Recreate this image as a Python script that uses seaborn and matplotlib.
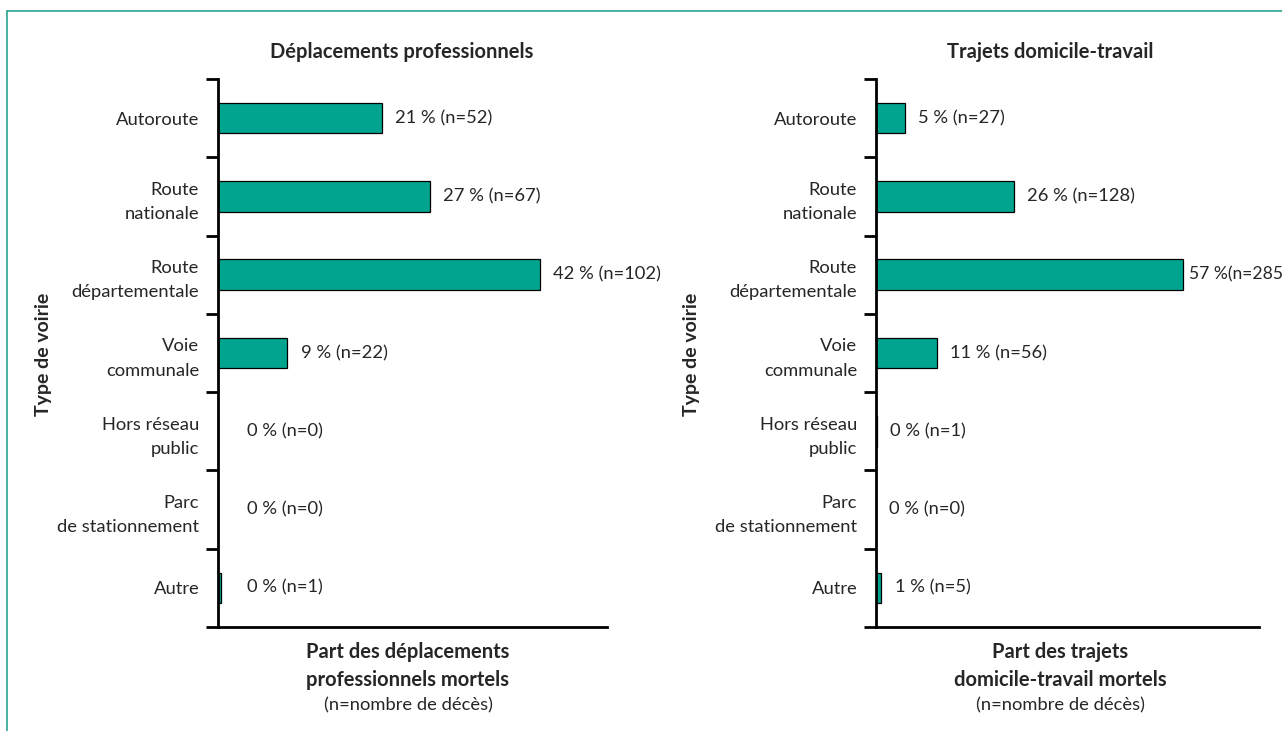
import numpy as np
import pandas as pd
import matplotlib
matplotlib.use("Agg")
import matplotlib.pyplot as plt
from matplotlib.lines import Line2D
import seaborn as sns

# ==========================================
# Data
# ==========================================

categories = [
    "Autoroute",
    "Route\nnationale",
    "Route\ndépartementale",
    "Voie\ncommunale",
    "Hors réseau\npublic",
    "Parc\nde stationnement",
    "Autre",
]

# share of deaths (%) and number of deaths
pro_pct = [21.3, 27.5, 41.8, 9.0, 0.0, 0.0, 0.4]
pro_n = [52, 67, 102, 22, 0, 0, 1]
pro_labels = ["21 %", "27 %", "42 %", "9 %", "0 %", "0 %", "0 %"]

dom_pct = [5.4, 25.5, 56.8, 11.2, 0.2, 0.0, 1.0]
dom_n = [27, 128, 285, 56, 1, 0, 5]
dom_labels = ["5 %", "26 %", "57 %", "11 %", "0 %", "0 %", "1 %"]

titles = ["Déplacements professionnels", "Trajets domicile-travail"]
xlabels = [
    "Part des déplacements\nprofessionnels mortels",
    "Part des trajets\ndomicile-travail mortels",
]
note = "(n=nombre de décès)"

# ==========================================
# Style
# ==========================================

TEAL = "#00a48f"
FRAME = "#3aab98"
FS = 13.2     # regular text
FS_B = 14.5   # bold text

sns.set_style("white")
plt.rcParams["font.family"] = ["Lato", "DejaVu Sans"]

W, H = 1282, 731
fig = plt.figure(figsize=(W / 100, H / 100), dpi=100)
renderer = fig.canvas.get_renderer()


def px_axes(x0, x1, y_top, y_bot):
    return fig.add_axes([x0 / W, 1 - y_bot / H, (x1 - x0) / W, (y_bot - y_top) / H])


panels = [
    dict(ax=px_axes(218, 607, 79, 627), pct=pro_pct, n=pro_n, lab=pro_labels,
         xmax=50.5, min_lab=2.0, title_x=402, lab_x=43, xl_x=408),
    dict(ax=px_axes(876, 1259, 79, 627), pct=dom_pct, n=dom_n, lab=dom_labels,
         xmax=70.9, min_lab=0.0, title_x=1050, lab_x=692, xl_x=1060),
]

for i, p in enumerate(panels):
    ax = p["ax"]
    df = pd.DataFrame({"type": categories, "pct": p["pct"]})
    sns.barplot(data=df, x="pct", y="type", color=TEAL, edgecolor="black",
                linewidth=0.9, width=0.39, saturation=1, ax=ax)

    ax.set_xlim(0, p["xmax"])
    ax.set_ylim(len(categories) - 0.5, -0.5)
    ax.set_xticks([])
    ax.set_yticks(np.arange(-0.5, len(categories)))
    ax.set_yticklabels([])
    ax.set_yticks(np.arange(len(categories)), minor=True)
    ax.set_yticklabels(categories, minor=True, fontsize=FS, linespacing=1.62)
    ax.tick_params(axis="y", which="major", direction="out", length=8.5, width=2,
                   color="black", left=True)
    ax.tick_params(axis="y", which="minor", length=0, pad=13.5, left=True)
    ax.set_xlabel("")
    ax.set_ylabel("")
    for s in ["top", "right"]:
        ax.spines[s].set_visible(False)
    for s in ["left", "bottom"]:
        ax.spines[s].set_linewidth(2)
        ax.spines[s].set_color("black")

    # value labels; one running past the figure edge is set tighter, as in the original
    for k, (v, n, lab) in enumerate(zip(p["pct"], p["n"], p["lab"])):
        t = ax.annotate(f"{lab} (n={n})", xy=(max(v, p["min_lab"]), k),
                        xytext=(9.5, 0), textcoords="offset points",
                        ha="left", va="center", fontsize=FS, annotation_clip=False)
        if t.get_window_extent(renderer).x1 > W:
            t.set_text(f"{lab}(n={n})")
            t.set_fontsize(12.6)
            t.xyann = (4.5, 0)

    fig.text(p["title_x"] / W, 1 - 52 / H, titles[i], ha="center", va="center",
             fontsize=FS_B, fontweight="bold")
    fig.text(p["lab_x"] / W, 1 - 354 / H, "Type de voirie", rotation=90,
             ha="center", va="center", fontsize=14, fontweight="bold")
    fig.text(p["xl_x"] / W, 1 - 666 / H, xlabels[i], ha="center", va="center",
             fontsize=FS_B, fontweight="bold", linespacing=1.5)
    fig.text(p["xl_x"] / W, 1 - 705 / H, note, ha="center", va="center",
             fontsize=FS)

# teal frame (left and top edges)
fig.add_artist(Line2D([7 / W, 7 / W], [0, 1 - 11 / H], transform=fig.transFigure,
                      color=FRAME, lw=1.3))
fig.add_artist(Line2D([7 / W, 1], [1 - 11 / H, 1 - 11 / H], transform=fig.transFigure,
                      color=FRAME, lw=1.3))

fig.savefig("out.png", dpi=100)
